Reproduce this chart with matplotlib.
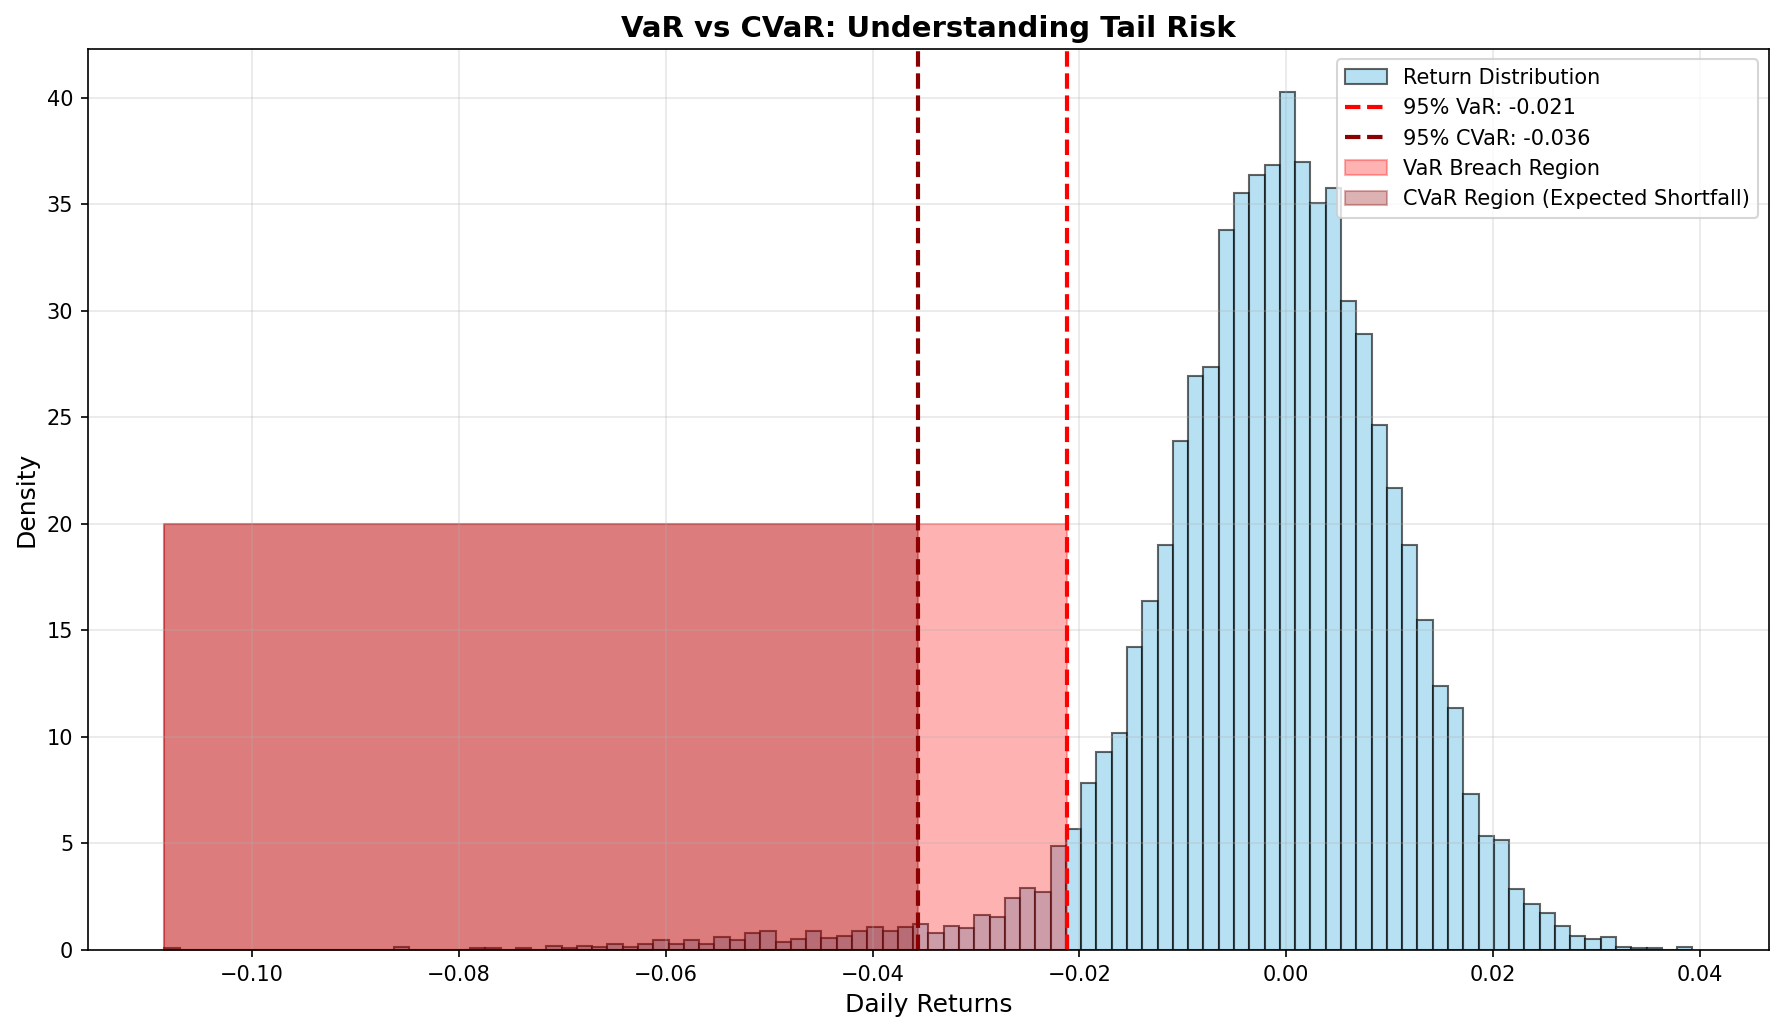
import numpy as np
import matplotlib
matplotlib.use("Agg")
import matplotlib.pyplot as plt

# ---- data ----
ret_min = -0.1085
ret_max = 0.0393
n_bins = 100
density = [
    0.07, 0, 0, 0, 0, 0, 0, 0, 0, 0,
    0, 0, 0, 0, 0, 0.14, 0, 0, 0, 0,
    0.07, 0.07, 0, 0.07, 0, 0.20, 0.07, 0.20, 0.14, 0.27,
    0.14, 0.27, 0.46, 0.30, 0.46, 0.27, 0.60, 0.46, 0.79, 0.88,
    0.39, 0.50, 0.91, 0.58, 0.65, 0.91, 1.07, 0.91, 1.07, 1.21,
    0.79, 1.12, 1.03, 1.64, 1.55, 2.44, 2.92, 2.71, 4.90, 5.67,
    7.85, 9.31, 10.19, 14.20, 16.37, 19.00, 23.90, 26.93, 27.37, 33.79,
    35.54, 36.37, 36.84, 40.27, 36.98, 35.05, 35.77, 30.47, 28.90, 24.63,
    21.67, 19.00, 15.47, 12.38, 11.36, 7.33, 5.34, 5.17, 2.88, 2.14,
    1.75, 1.14, 0.67, 0.52, 0.62, 0.14, 0.07, 0.07, 0, 0.14,
]
var_95 = -0.0212
cvar_95 = -0.0356
region_height = 20

edges = np.linspace(ret_min, ret_max, n_bins + 1)
centers = 0.5 * (edges[:-1] + edges[1:])

fig = plt.figure(figsize=(1784 / 150, 1032 / 150), dpi=150)
ax = fig.add_axes([0.0493, 0.0795, 0.9422, 0.873])

ax.hist(centers, bins=edges, weights=density, color='skyblue', edgecolor='black',
        alpha=0.6, label='Return Distribution')
ax.axvline(var_95, color='red', linestyle='--', linewidth=2,
           label=f'95% VaR: {var_95:.3f}')
ax.axvline(cvar_95, color='darkred', linestyle='--', linewidth=2,
           label=f'95% CVaR: {cvar_95:.3f}')
ax.fill_between([ret_min, var_95], 0, region_height, color='red', alpha=0.3,
                label='VaR Breach Region')
ax.fill_between([ret_min, cvar_95], 0, region_height, color='darkred', alpha=0.3,
                label='CVaR Region (Expected Shortfall)')

ax.set_xlabel('Daily Returns', fontsize=12)
ax.set_ylabel('Density', fontsize=12)
ax.set_title('VaR vs CVaR: Understanding Tail Risk', fontsize=14, fontweight='bold')
ax.legend(loc='upper right')
ax.grid(True, alpha=0.3)

fig.savefig('out.png', dpi=150)
